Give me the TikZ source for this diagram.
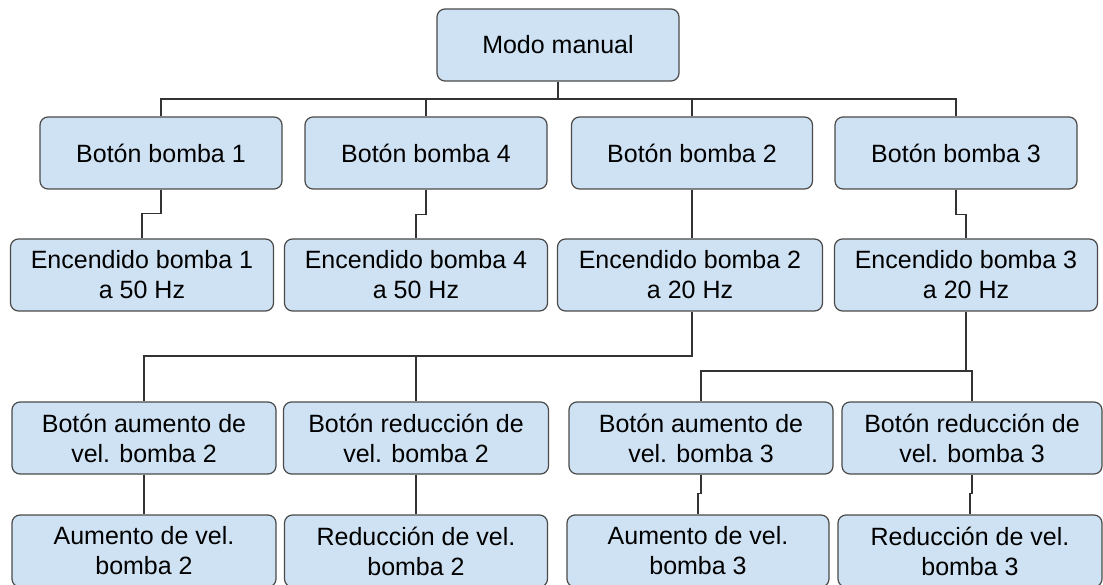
\documentclass[tikz,border=0pt]{standalone}
\usepackage{fontspec}
\setmainfont{Liberation Sans}
\begin{document}
\begin{tikzpicture}[x=1pt,y=-1pt,
  box/.style={draw=boxline, fill=boxfill, line width=1.2pt, rounded corners=8pt,
    minimum height=72pt, inner sep=0pt, align=center, text=black,
    font=\fontsize{25}{30}\selectfont},
  link/.style={draw=linkcol, line width=1.3pt}]
\definecolor{boxfill}{HTML}{CFE2F3}
\definecolor{boxline}{HTML}{4A4A4A}
\definecolor{linkcol}{HTML}{333333}
\useasboundingbox (0,0) rectangle (1103,585);
\clip (0,0) rectangle (1103,585);

% top
\node[box, minimum width=242pt] (M) at (558,45) {Modo manual};

% pump buttons
\node[box, minimum width=242pt] (B1) at (161,153) {Botón bomba 1};
\node[box, minimum width=242pt] (B4) at (426,153) {Botón bomba 4};
\node[box, minimum width=241pt] (B2) at (692,153) {Botón bomba 2};
\node[box, minimum width=242pt] (B3) at (956,153) {Botón bomba 3};

% pump start
\node[box, minimum width=263pt] (E1) at (142,275) {Encendido bomba 1\\a 50 Hz};
\node[box, minimum width=263pt] (E4) at (416,275) {Encendido bomba 4\\a 50 Hz};
\node[box, minimum width=265pt] (E2) at (690,275) {Encendido bomba 2\\a 20 Hz};
\node[box, minimum width=263pt] (E3) at (966,275) {Encendido bomba 3\\a 20 Hz};

% speed buttons
\node[box, minimum width=264pt] (BA2) at (144,438) {Botón aumento de\\vel. bomba 2};
\node[box, minimum width=265pt] (BR2) at (416,438) {Botón reducción de\\vel. bomba 2};
\node[box, minimum width=264pt] (BA3) at (701,438) {Botón aumento de\\vel. bomba 3};
\node[box, minimum width=260pt] (BR3) at (972,438) {Botón reducción de\\vel. bomba 3};

% speed changes
\node[box, minimum width=264pt] (A2) at (144,551) {Aumento de vel.\\bomba 2};
\node[box, minimum width=263pt] (R2) at (416,551) {Reducción de vel.\\bomba 2};
\node[box, minimum width=262pt] (A3) at (698,551) {Aumento de vel.\\bomba 3};
\node[box, minimum width=264pt] (R3) at (970,551) {Reducción de vel.\\bomba 3};

% bus coordinates
\coordinate (bus1) at (558,99);
\coordinate (bus3) at (692,356);
\coordinate (bus4) at (966,371);

% connectors
\path[link] (M.south) -- (bus1) -| (B1.north);
\path[link] (bus1) -| (B4.north);
\path[link] (bus1) -| (B2.north);
\path[link] (bus1) -| (B3.north);

\path[link] (B1.south) -- ++(0,24) -| (E1.north);
\path[link] (B4.south) -- ++(0,25) -| (E4.north);
\path[link] (B2.south) -- (B2.south |- E2.north);
\path[link] (B3.south) -- ++(0,25) -| (E3.north);

\path[link] (bus3 |- E2.south) -- (bus3) -| (BA2.north);
\path[link] (bus3) -| (BR2.north);
\path[link] (E3.south) -- (bus4) -| (BA3.north);
\path[link] (bus4) -| (BR3.north);

\path[link] (BA2.south) -- (A2.north);
\path[link] (BR2.south) -- (R2.north);
\path[link] (BA3.south) -- ++(0,19) -| (A3.north);
\path[link] (BR3.south) -- ++(0,19) -| (R3.north);
\end{tikzpicture}
\end{document}
